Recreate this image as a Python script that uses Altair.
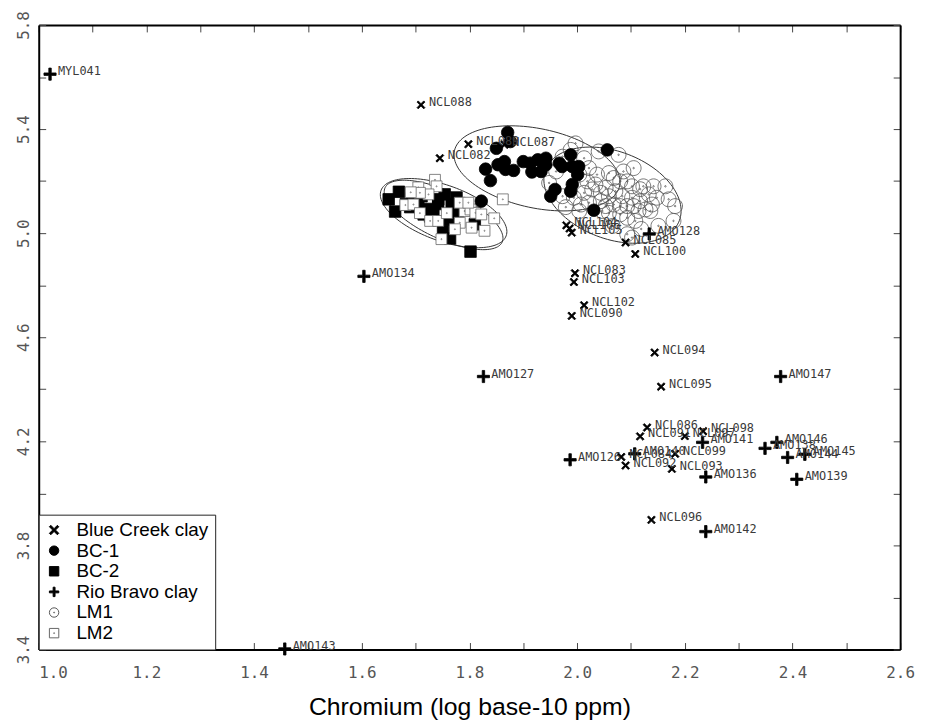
import math
import altair as alt
import pandas as pd

GROUPS = ["Blue Creek clay", "BC-1", "BC-2", "Rio Bravo clay", "LM1", "LM2"]

# Blue Creek clay (labelled)
bcc_names = ["NCL088", "NCL089", "NCL087", "NCL082", "NCL104", "NCL106", "NCL105",
             "NCL085", "NCL100", "NCL083", "NCL103", "NCL102", "NCL090", "NCL094",
             "NCL095", "NCL086", "NCL091", "NCL097", "NCL098", "NCL084", "NCL099",
             "NCL092", "NCL093", "NCL096"]
bcc_x = [1.710, 1.798, 1.865, 1.745, 1.980, 1.986, 1.990,
         2.090, 2.108, 1.996, 1.994, 2.013, 1.990, 2.144,
         2.156, 2.130, 2.117, 2.200, 2.234, 2.082, 2.182,
         2.090, 2.176, 2.138]
bcc_y = [5.493, 5.342, 5.340, 5.288, 5.030, 5.018, 5.002,
         4.964, 4.920, 4.846, 4.812, 4.723, 4.682, 4.541,
         4.410, 4.253, 4.219, 4.220, 4.239, 4.140, 4.152,
         4.107, 4.094, 3.898]

# Rio Bravo clay (labelled)
rb_names = ["MYL041", "AMO134", "AMO127", "AMO128", "AMO147", "AMO141", "AMO146",
            "AMO138", "AMO145", "AMO144", "AMO139", "AMO136", "AMO142", "AMO126",
            "AMO140", "AMO143"]
rb_x = [1.021, 1.604, 1.826, 2.134, 2.378, 2.233, 2.371,
        2.349, 2.423, 2.391, 2.408, 2.239, 2.239, 1.987,
        2.107, 1.457]
rb_y = [5.611, 4.834, 4.449, 4.997, 4.449, 4.196, 4.196,
        4.173, 4.150, 4.138, 4.054, 4.063, 3.853, 4.129,
        4.152, 3.402]

# BC-1 (filled circles)
bc1_x = [1.871, 1.876, 1.850, 1.830, 1.853, 1.865, 1.867, 1.882, 1.839, 1.822,
         1.916, 1.913, 1.927, 1.942, 1.942, 1.967, 1.972, 1.988, 1.991, 2.003,
         2.001, 1.991, 1.988, 1.959, 1.951, 2.056, 2.031, 1.900, 1.933]
bc1_y = [5.387, 5.352, 5.326, 5.246, 5.263, 5.275, 5.245, 5.241, 5.202, 5.123,
         5.235, 5.269, 5.282, 5.288, 5.263, 5.269, 5.256, 5.301, 5.256, 5.256,
         5.225, 5.187, 5.161, 5.168, 5.142, 5.320, 5.088, 5.275, 5.237]

# BC-2 (filled squares)
bc2_x = [1.650, 1.669, 1.662, 1.690, 1.699, 1.711, 1.705, 1.715, 1.727, 1.733,
         1.742, 1.754, 1.776, 1.778, 1.761, 1.810, 1.751, 1.764, 1.802, 1.742,
         1.693, 1.721, 1.767, 1.682]
bc2_y = [5.130, 5.159, 5.083, 5.100, 5.125, 5.142, 5.112, 5.072, 5.064, 5.079,
         5.130, 5.149, 5.137, 5.077, 5.053, 5.034, 5.009, 4.980, 4.929, 5.112,
         5.134, 5.093, 5.112, 5.112]

# LM1 (open circles)
lm1_x = [1.997, 2.040, 2.077, 2.105, 2.013, 2.022, 2.037, 2.059, 2.068, 2.080,
         2.093, 2.102, 2.123, 2.142, 2.133, 2.148, 2.170, 2.139, 2.117, 2.102,
         2.084, 2.071, 2.053, 2.034, 2.019, 2.004, 1.973, 1.994, 2.007, 2.022,
         2.044, 2.053, 2.068, 2.080, 2.093, 2.105, 2.114, 2.127, 2.136, 2.093,
         2.108, 2.080, 2.059, 2.047, 2.004, 2.179, 2.151, 2.093, 2.102, 2.028,
         2.044, 2.059, 1.988, 1.973, 2.013, 1.948, 2.182, 2.164, 1.961, 2.119,
         1.979, 2.086, 2.117, 2.066]
lm1_y = [5.345, 5.314, 5.301, 5.250, 5.288, 5.250, 5.225, 5.231, 5.212, 5.199,
         5.199, 5.180, 5.180, 5.180, 5.149, 5.136, 5.130, 5.110, 5.123, 5.136,
         5.142, 5.161, 5.174, 5.187, 5.199, 5.225, 5.142, 5.136, 5.110, 5.117,
         5.123, 5.104, 5.110, 5.104, 5.104, 5.104, 5.085, 5.091, 5.085, 5.059,
         5.047, 5.072, 5.078, 5.085, 5.085, 5.047, 5.028, 4.996, 4.983, 5.168,
         5.155, 5.142, 5.320, 5.294, 5.155, 5.193, 5.104, 5.180, 5.237, 5.016,
         5.100, 5.237, 5.169, 5.028]

# LM2 (open squares)
lm2_x = [1.736, 1.739, 1.705, 1.724, 1.708, 1.681, 1.696, 1.708, 1.727, 1.742,
         1.748, 1.782, 1.791, 1.802, 1.811, 1.822, 1.804, 1.828, 1.846, 1.862,
         1.782, 1.773, 1.798, 1.758, 1.691]
lm2_y = [5.205, 5.180, 5.176, 5.149, 5.155, 5.108, 5.110, 5.077, 5.047, 5.047,
         4.977, 5.040, 5.085, 5.091, 5.078, 5.072, 5.021, 5.009, 5.057, 5.130,
         5.117, 5.015, 5.117, 5.077, 5.157]

# group ellipses: centre and two conjugate semi-axis vectors (data units)
ell_names = ["BC-2", "LM2", "BC-1", "LM1"]
ell_cx = [1.752, 1.752, 1.9255, 2.0657]
ell_cy = [5.077, 5.070, 5.249, 5.146]
ell_ux = [0.1162, 0.1087, 0.1534, 0.1241]
ell_uy = [-0.0873, -0.1047, -0.0674, -0.0982]
ell_vx = [-0.0177, -0.0187, -0.0154, -0.0291]
ell_vy = [-0.1003, -0.0828, -0.1490, -0.1566]

x_ticks = [round(1.0 + 0.1 * i, 1) for i in range(17)]
y_ticks = [round(3.4 + 0.2 * i, 1) for i in range(13)]

# marker area (px^2) per group -- styling only
MARKER_SIZE = {"Blue Creek clay": 64, "BC-1": 160, "BC-2": 135,
               "Rio Bravo clay": 150, "LM1": 225, "LM2": 120}

# ---- tables ----
rows = []
for gname, xs, ys in [("BC-2", bc2_x, bc2_y), ("LM2", lm2_x, lm2_y), ("LM1", lm1_x, lm1_y),
                      ("BC-1", bc1_x, bc1_y), ("Blue Creek clay", bcc_x, bcc_y),
                      ("Rio Bravo clay", rb_x, rb_y)]:
    for xv, yv in zip(xs, ys):
        rows.append({"cr": xv, "val": yv, "group": gname, "sz": MARKER_SIZE[gname]})
points = pd.DataFrame(rows)

lab_rows = []
for names, xs, ys in [(bcc_names, bcc_x, bcc_y), (rb_names, rb_x, rb_y)]:
    for n, xv, yv in zip(names, xs, ys):
        lab_rows.append({"cr": xv, "val": yv, "name": n})
labels = pd.DataFrame(lab_rows)

erows = []
N = 120
for name, cx, cy, ux, uy, vx, vy in zip(ell_names, ell_cx, ell_cy, ell_ux, ell_uy, ell_vx, ell_vy):
    for k in range(N + 1):
        t = 2 * math.pi * k / N
        erows.append({"ell": name, "k": k,
                      "cr": cx + ux * math.cos(t) + vx * math.sin(t),
                      "val": cy + uy * math.cos(t) + vy * math.sin(t)})
ellipses = pd.DataFrame(erows)

# ---- symbols ----
X_PATH = "M-1,-0.7L-0.7,-1L0,-0.3L0.7,-1L1,-0.7L0.3,0L1,0.7L0.7,1L0,0.3L-0.7,1L-1,0.7L-0.3,0Z"
PLUS_PATH = ("M-1,-0.2L-0.2,-0.2L-0.2,-1L0.2,-1L0.2,-0.2L1,-0.2L1,0.2L0.2,0.2L0.2,1"
             "L-0.2,1L-0.2,0.2L-1,0.2Z")
LM1_PATH = ("M1,0A1,1,0,1,1,-1,0A1,1,0,1,1,1,0Z"
            "M0.1,0A0.1,0.1,0,1,1,-0.1,0A0.1,0.1,0,1,1,0.1,0Z")
LM2_PATH = ("M-1,-1L1,-1L1,1L-1,1Z"
            "M0.1,0A0.1,0.1,0,1,1,-0.1,0A0.1,0.1,0,1,1,0.1,0Z")

x_scale = alt.Scale(domain=[1.0, 2.6], nice=False, zero=False)
y_scale = alt.Scale(domain=[3.4, 5.8], nice=False, zero=False)

TICK_FONT = "DejaVu Sans Mono"

x_axis_bottom = alt.Axis(
    orient="bottom", values=x_ticks, tickSize={"expr": "-7"}, tickColor="#444", tickWidth=1,
    domainColor="black", domainWidth=2, grid=False,
    labelExpr="round(datum.value*10) % 2 == 0 ? format(datum.value, '.1f') : ''",
    labelFont=TICK_FONT, labelFontSize=16, labelColor="#555", labelPadding=22,
    labelFlush=False, labelBaseline="top",
    labelAlign={"condition": {"test": "datum.value < 1.05", "value": "left"}, "value": "center"},
    title="Chromium (log base-10 ppm)", titleFont="Liberation Sans", titleFontSize=25,
    titleFontWeight="normal", titleColor="black", titlePadding=15,
)
y_axis_left = alt.Axis(
    orient="left", values=y_ticks, tickSize={"expr": "-7"}, tickColor="#444", tickWidth=1,
    domainColor="black", domainWidth=2, grid=False,
    labelExpr="round((datum.value-3.4)*10) % 4 == 0 ? format(datum.value, '.1f') : ''",
    labelFont=TICK_FONT, labelFontSize=16, labelColor="#555", labelPadding=14,
    labelAngle=270, labelAlign="center", labelBaseline="bottom", labelFlush=False,
    title=None,
)
x_axis_top = alt.Axis(orient="top", values=x_ticks, tickSize={"expr": "-7"}, tickColor="#444",
                      tickWidth=1, domainColor="black", domainWidth=2, grid=False,
                      labels=False, title=None)
y_axis_right = alt.Axis(orient="right", values=y_ticks, tickSize={"expr": "-7"}, tickColor="#444",
                        tickWidth=1, domainColor="black", domainWidth=2, grid=False,
                        labels=False, title=None)

ell_layer = alt.Chart(ellipses).mark_line(color="#333", strokeWidth=1).encode(
    x=alt.X("cr:Q", scale=x_scale, axis=x_axis_bottom),
    y=alt.Y("val:Q", scale=y_scale, axis=y_axis_left),
    detail="ell:N",
    order="k:Q",
)

legend = alt.Legend(
    title=None, orient="bottom-left", offset=0, strokeColor="#222", fillColor="white",
    padding=6, labelFont="Liberation Sans", labelFontSize=19, labelColor="black",
    symbolSize=90, symbolStrokeWidth=1, rowPadding=0.8, labelOffset=13,
    labelLimit=300,
)

pt_layer = alt.Chart(points).mark_point(strokeWidth=0.8, opacity=1).encode(
    x=alt.X("cr:Q", scale=x_scale, axis=None),
    y=alt.Y("val:Q", scale=y_scale, axis=None),
    shape=alt.Shape("group:N", scale=alt.Scale(
        domain=GROUPS, range=[X_PATH, "circle", "square", PLUS_PATH, LM1_PATH, LM2_PATH]),
        legend=legend),
    fill=alt.Fill("group:N", scale=alt.Scale(
        domain=GROUPS, range=["black", "black", "black", "black", "transparent", "white"]),
        legend=legend),
    stroke=alt.Stroke("group:N", scale=alt.Scale(
        domain=GROUPS, range=["black", "black", "black", "black", "#555", "#666"]),
        legend=legend),
    size=alt.Size("sz:Q", scale=None),
)

txt_layer = alt.Chart(labels).mark_text(
    align="left", baseline="middle", dx=8, dy=-3, font=TICK_FONT, fontSize=12, color="#3a3a3a"
).encode(
    x=alt.X("cr:Q", scale=x_scale, axis=x_axis_top),
    y=alt.Y("val:Q", scale=y_scale, axis=y_axis_right),
    text="name:N",
)

chart = alt.layer(ell_layer, pt_layer, txt_layer).resolve_axis(
    x="independent", y="independent"
).properties(
    width=869, height=630,
    autosize=alt.AutoSizeParams(type="none"),
    padding={"left": 31, "top": 14, "right": 17, "bottom": 68},
).configure_view(stroke="black", strokeWidth=2).configure(background="white")

chart.save("out.html", embed_options={"renderer": "svg", "actions": False})
